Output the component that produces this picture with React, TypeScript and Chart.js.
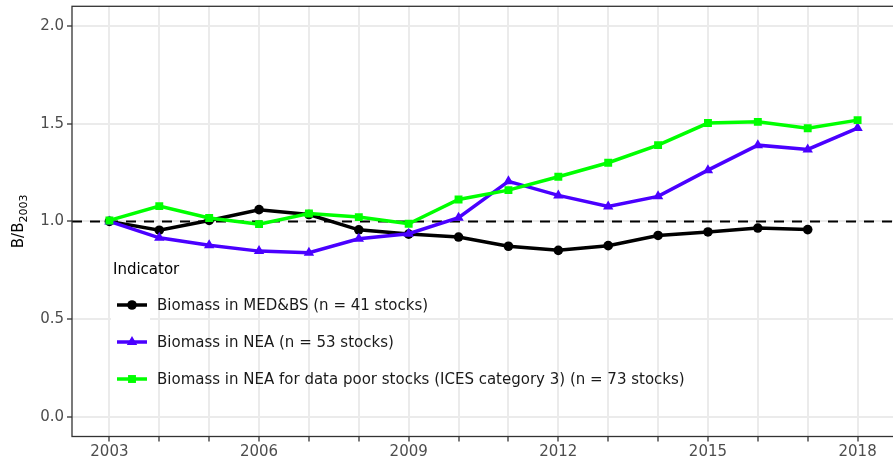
import React, { useEffect, useRef } from "react";
import { Chart, registerables } from "chart.js";

Chart.register(...registerables);

const years = [2003, 2004, 2005, 2006, 2007, 2008, 2009, 2010, 2011, 2012, 2013, 2014, 2015, 2016, 2017, 2018];
const medbs = [1.0, 0.955, 1.005, 1.06, 1.035, 0.957, 0.935, 0.92, 0.873, 0.852, 0.876, 0.928, 0.946, 0.966, 0.958, null];
const nea = [1.0, 0.916, 0.878, 0.848, 0.84, 0.911, 0.937, 1.019, 1.205, 1.133, 1.076, 1.128, 1.262, 1.39, 1.368, 1.477];
const neaPoor = [1.005, 1.078, 1.017, 0.986, 1.04, 1.022, 0.988, 1.112, 1.16, 1.228, 1.3, 1.39, 1.503, 1.509, 1.476, 1.518];
const seriesLabels = [
  "Biomass in MED&BS (n = 41 stocks)",
  "Biomass in NEA (n = 53 stocks)",
  "Biomass in NEA for data poor stocks (ICES category 3) (n = 73 stocks)",
];
const seriesColors = ["#000000", "#4a00ff", "#00ff00"];
const seriesShapes = ["circle", "triangle", "rect"];
const yTicks = [0, 0.5, 1.0, 1.5, 2.0];
const labelledYears = [2003, 2006, 2009, 2012, 2015, 2018];
const referenceLevel = 1.0;
const legendTitle = "Indicator";
const yTitleMain = "B/B";
const yTitleSub = "2003";

const FONT = "'DejaVu Sans', sans-serif";
const RADII = [4.8, 6, 5.6];

function drawShape(ctx: CanvasRenderingContext2D, shape: string, x: number, y: number, r: number) {
  ctx.beginPath();
  if (shape === "circle") {
    ctx.arc(x, y, r, 0, Math.PI * 2);
  } else if (shape === "triangle") {
    for (let i = 0; i < 3; i++) {
      const a = -Math.PI / 2 + (i * 2 * Math.PI) / 3;
      const px = x + Math.cos(a) * r;
      const py = y + Math.sin(a) * r;
      if (i === 0) ctx.moveTo(px, py);
      else ctx.lineTo(px, py);
    }
    ctx.closePath();
  } else {
    const s = r * Math.SQRT1_2;
    ctx.rect(x - s, y - s, 2 * s, 2 * s);
  }
  ctx.fill();
}

const customPlugin = {
  id: "custom",
  beforeDatasetsDraw(chart: any) {
    const { ctx, chartArea, scales } = chart;
    const y = scales.y.getPixelForValue(referenceLevel);
    ctx.save();
    ctx.strokeStyle = "#000";
    ctx.lineWidth = 2;
    ctx.setLineDash([10, 8]);
    ctx.beginPath();
    ctx.moveTo(chartArea.left, y);
    ctx.lineTo(chartArea.right, y);
    ctx.stroke();
    ctx.restore();
  },
  afterDraw(chart: any) {
    const { ctx, chartArea } = chart;
    ctx.save();
    ctx.strokeStyle = "#333333";
    ctx.lineWidth = 1.3;
    ctx.strokeRect(chartArea.left, chartArea.top, chartArea.right - chartArea.left, chartArea.bottom - chartArea.top);

    const cy = (chartArea.top + chartArea.bottom) / 2;
    ctx.fillStyle = "#000";
    ctx.translate(23, cy);
    ctx.rotate(-Math.PI / 2);
    ctx.font = `15px ${FONT}`;
    const w1 = ctx.measureText(yTitleMain).width;
    ctx.font = `11px ${FONT}`;
    const w2 = ctx.measureText(yTitleSub).width;
    const start = -(w1 + w2) / 2;
    ctx.textBaseline = "alphabetic";
    ctx.textAlign = "left";
    ctx.font = `15px ${FONT}`;
    ctx.fillText(yTitleMain, start, 0);
    ctx.font = `11px ${FONT}`;
    ctx.fillText(yTitleSub, start + w1, 4);
    ctx.restore();

    ctx.save();
    const rowY = [305, 342, 379];
    ctx.fillStyle = "#ffffff";
    ctx.fillRect(111, rowY[0] - 18.5, 39, rowY[2] - rowY[0] + 37);
    ctx.font = `15px ${FONT}`;
    ctx.textBaseline = "middle";
    ctx.textAlign = "left";
    ctx.fillStyle = "#000";
    ctx.fillText(legendTitle, 113, 270);
    for (let i = 0; i < 3; i++) {
      ctx.strokeStyle = seriesColors[i];
      ctx.fillStyle = seriesColors[i];
      ctx.lineWidth = 3.5;
      ctx.beginPath();
      ctx.moveTo(117, rowY[i]);
      ctx.lineTo(147, rowY[i]);
      ctx.stroke();
      drawShape(ctx, seriesShapes[i], 132, rowY[i], RADII[i]);
      ctx.fillStyle = "#1a1a1a";
      ctx.fillText(seriesLabels[i], 157, rowY[i] + 1);
    }
    ctx.restore();
  },
};

export default function App() {
  const canvasRef = useRef<HTMLCanvasElement | null>(null);

  useEffect(() => {
    if (!canvasRef.current) return;
    const series = [medbs, nea, neaPoor];
    const datasets = series.map((vals, i) => ({
      label: seriesLabels[i],
      data: years.map((yr, j) => ({ x: yr, y: vals[j] })).filter((p) => p.y !== null),
      borderColor: seriesColors[i],
      backgroundColor: seriesColors[i],
      borderWidth: 3.5,
      pointStyle: seriesShapes[i],
      pointRadius: RADII[i],
      pointBorderWidth: 0,
      pointBackgroundColor: seriesColors[i],
      tension: 0,
      order: 3 - i,
    }));
    const chart = new Chart(canvasRef.current, {
      type: "line",
      data: { datasets },
      plugins: [customPlugin],
      options: {
        animation: false,
        responsive: false,
        devicePixelRatio: 1,
        layout: { padding: { top: 6.3, left: 0, right: 0, bottom: 0 } },
        plugins: { legend: { display: false }, tooltip: { enabled: false } },
        scales: {
          x: {
            type: "linear",
            min: 2002.25,
            max: 2018.75,
            afterFit(scale: any) {
              scale.height = 29.5;
              scale.paddingLeft = 0;
              scale.paddingRight = 0;
            },
            afterBuildTicks(scale: any) {
              scale.ticks = years.map((v) => ({ value: v }));
            },
            ticks: {
              stepSize: 1,
              includeBounds: false,
              autoSkip: false,
              maxRotation: 0,
              color: "#4d4d4d",
              font: { family: FONT, size: 15 },
              padding: 2,
              callback: (v: any) => (labelledYears.includes(Number(v)) ? String(v) : ""),
            },
            grid: {
              color: "#ebebeb",
              lineWidth: 2,
              tickColor: "#333333",
              tickLength: 5,
              tickWidth: 1.3,
            },
            border: { display: false },
          },
          y: {
            type: "linear",
            min: -0.1,
            max: 2.1,
            afterFit(scale: any) {
              scale.width = 72;
              scale.paddingTop = 0;
              scale.paddingBottom = 0;
            },
            afterBuildTicks(scale: any) {
              scale.ticks = yTicks.map((v) => ({ value: v }));
            },
            ticks: {
              stepSize: 0.5,
              includeBounds: false,
              color: "#4d4d4d",
              font: { family: FONT, size: 15 },
              padding: 3,
              callback: (v: any) => Number(v).toFixed(1),
            },
            grid: {
              color: "#ebebeb",
              lineWidth: 2,
              tickColor: "#333333",
              tickLength: 5,
              tickWidth: 1.3,
            },
            border: { display: false },
          },
        },
      } as any,
    });
    return () => chart.destroy();
  }, []);

  return (
    <div style={{ position: "fixed", left: 0, top: 0, width: 893, height: 466, overflow: "hidden", background: "#fff" }}>
      <canvas ref={canvasRef} width={901} height={466} style={{ display: "block" }} />
    </div>
  );
}
